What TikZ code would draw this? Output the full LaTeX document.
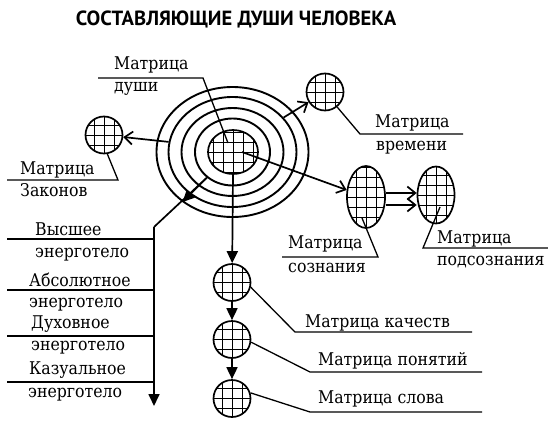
\documentclass[tikz,border=0pt]{standalone}
\usepackage{fontspec}
\setmainfont{DejaVu Serif}[FakeStretch=0.9]
\newfontfamily\headfont{PT Sans}
\usetikzlibrary{shapes.geometric,arrows.meta,calc}

\begin{document}
\begin{tikzpicture}[x=1pt, y=-1pt]
    \tikzstyle{mesh} = [path picture={\draw[line width=0.5pt, shift={(path picture bounding box.center)}] (-50pt,-50pt) grid[step=10pt] (50pt,50pt);}]
    \tikzstyle{cell} = [circle, draw, line width=1.7pt, minimum size=37pt, inner sep=0pt, mesh]
    \tikzstyle{oval} = [ellipse, draw, line width=1.7pt, minimum width=38pt, minimum height=62pt, inner sep=0pt, mesh]
    \tikzstyle{ring} = [ellipse, draw, line width=1.9pt, inner sep=0pt]
    \tikzstyle{lbl} = [anchor=base west, inner sep=0pt, font=\fontsize{17.5}{19}\selectfont]
    \tikzstyle{lead} = [line width=1.3pt]
    \tikzstyle{arrow} = [line width=1.7pt, -{Straight Barb[length=8pt,width=13pt,line width=1.7pt]}]
    \tikzstyle{drop} = [line width=1.7pt, -{Triangle[length=12pt,width=11pt]}]

    \fill[white] (0,0) rectangle (548,428);
    \useasboundingbox (0,0) rectangle (548,428);

    % Title
    \node [font=\headfont\bfseries\fontsize{20.5}{22}\selectfont] (title) at (236,19) {СОСТАВЛЯЮЩИЕ ДУШИ ЧЕЛОВЕКА};

    % Soul matrix with its rings
    \node [ring, minimum width=152pt, minimum height=130pt] (ringD) at (232.5,152) {};
    \node [ring, minimum width=128pt, minimum height=110pt] (ringC) at (232.5,152) {};
    \node [ring, minimum width=102pt, minimum height=88pt] (ringB) at (232.5,152) {};
    \node [ring, minimum width=75pt, minimum height=67pt] (ringA) at (232.5,152) {};
    \node [oval, minimum width=50pt, minimum height=44pt] (soul) at (233,152) {};

    % Other matrices
    \node [cell] (law) at (104,135) {};
    \node [cell] (time) at (325,92) {};
    \node [oval] (consc) at (366,197) {};
    \node [oval, minimum width=37pt, minimum height=57pt] (subc) at (436,195) {};
    \node [cell] (qual) at (232,282.5) {};
    \node [cell] (notion) at (232,339.5) {};
    \node [cell] (word) at (232,398.5) {};

    % Arrows
    \draw [arrow] (ringC.171) -- (law);
    \draw [arrow] (ringC.34) -- (time);
    \draw [arrow] ($(soul.center)+(9,0)$) -- (consc);
    \draw [arrow] ([yshift=4pt]consc.east) -- ([yshift=4pt]consc.east -| subc.west);
    \draw [arrow] ([yshift=-8pt]consc.east) -- ([yshift=-8pt]consc.east -| subc.west);
    \draw [drop] (soul.south) -- (qual);
    \draw [drop] (qual) -- (notion);
    \draw [drop] (notion) -- (word);

    % Energy bodies
    \coordinate (knee) at (154,227);
    \coordinate (bodyend) at (154,406);
    \draw [line width=1.7pt] (ringA.225) -- (knee);
    \draw [drop] (ringA.225) -- (ringD.225);
    \draw [drop] (knee) -- (bodyend);
    \foreach \y/\n in {239/1, 290/2, 336/3, 382/4} {
        \coordinate (body\n) at (7,\y);
        \draw [lead] (body\n) -- (body\n -| knee);
    }
    \node [lbl] (highA) at (35,235) {Высшее};
    \node [lbl] (highB) at (35,257) {энерготело};
    \node [lbl] (absA) at (29,286) {Абсолютное};
    \node [lbl] (absB) at (29,307) {энерготело};
    \node [lbl] (spirA) at (31,328) {Духовное};
    \node [lbl] (spirB) at (31,350) {энерготело};
    \node [lbl] (causA) at (29,374) {Казуальное};
    \node [lbl] (causB) at (28,397) {энерготело};

    % Labels of the matrices
    \node [lbl] (soulA) at (114,70) {Матрица};
    \node [lbl] (soulB) at (114,91) {души};
    \coordinate (soulL) at (98,78);
    \coordinate (soulR) at (203,78);
    \draw [lead] (soulL) -- (soulR) -- ($(soul.center)+(-5,-9)$);

    \node [lbl] (lawA) at (20,174) {Матрица};
    \node [lbl] (lawB) at (20,196) {Законов};
    \coordinate (lawL) at (7,180);
    \coordinate (lawR) at (118,180);
    \draw [lead] (lawL) -- (lawR) -- (law.280);

    \node [lbl] (timeA) at (375,127) {Матрица};
    \node [lbl] (timeB) at (376,150) {времени};
    \coordinate (timeL) at (360,134);
    \coordinate (timeR) at (463,134);
    \draw [lead] (timeR) -- (timeL) -- (time.309);

    \node [lbl] (conscA) at (288,248) {Матрица};
    \node [lbl] (conscB) at (288,272) {сознания};
    \coordinate (conscL) at (282,257);
    \coordinate (conscR) at (378,257);
    \draw [lead] (conscL) -- (conscR) -- ($(consc.center)+(-4,21)$);

    \node [lbl] (subcA) at (437,243) {Матрица};
    \node [lbl] (subcB) at (437,265) {подсознания};
    \coordinate (subcL) at (423,248);
    \coordinate (subcR) at (548,248);
    \draw [lead] (subcR) -- (subcL) -- ($(subc.center)+(4,12)$);

    \node [lbl] (qualA) at (305,327) {Матрица качеств};
    \coordinate (qualL) at (295,332);
    \coordinate (qualR) at (472,332);
    \draw [lead] (qualR) -- (qualL) -- (qual.346);

    \node [lbl] (notionA) at (318,365) {Матрица понятий};
    \coordinate (notionL) at (310,372);
    \coordinate (notionR) at (482,372);
    \draw [lead] (notionR) -- (notionL) -- (notion.352);

    \node [lbl] (wordA) at (318,403) {Матрица слова};
    \coordinate (wordL) at (310,412);
    \coordinate (wordR) at (482,412);
    \draw [lead] (wordR) -- (wordL) -- (word.17);
\end{tikzpicture}
\end{document}
